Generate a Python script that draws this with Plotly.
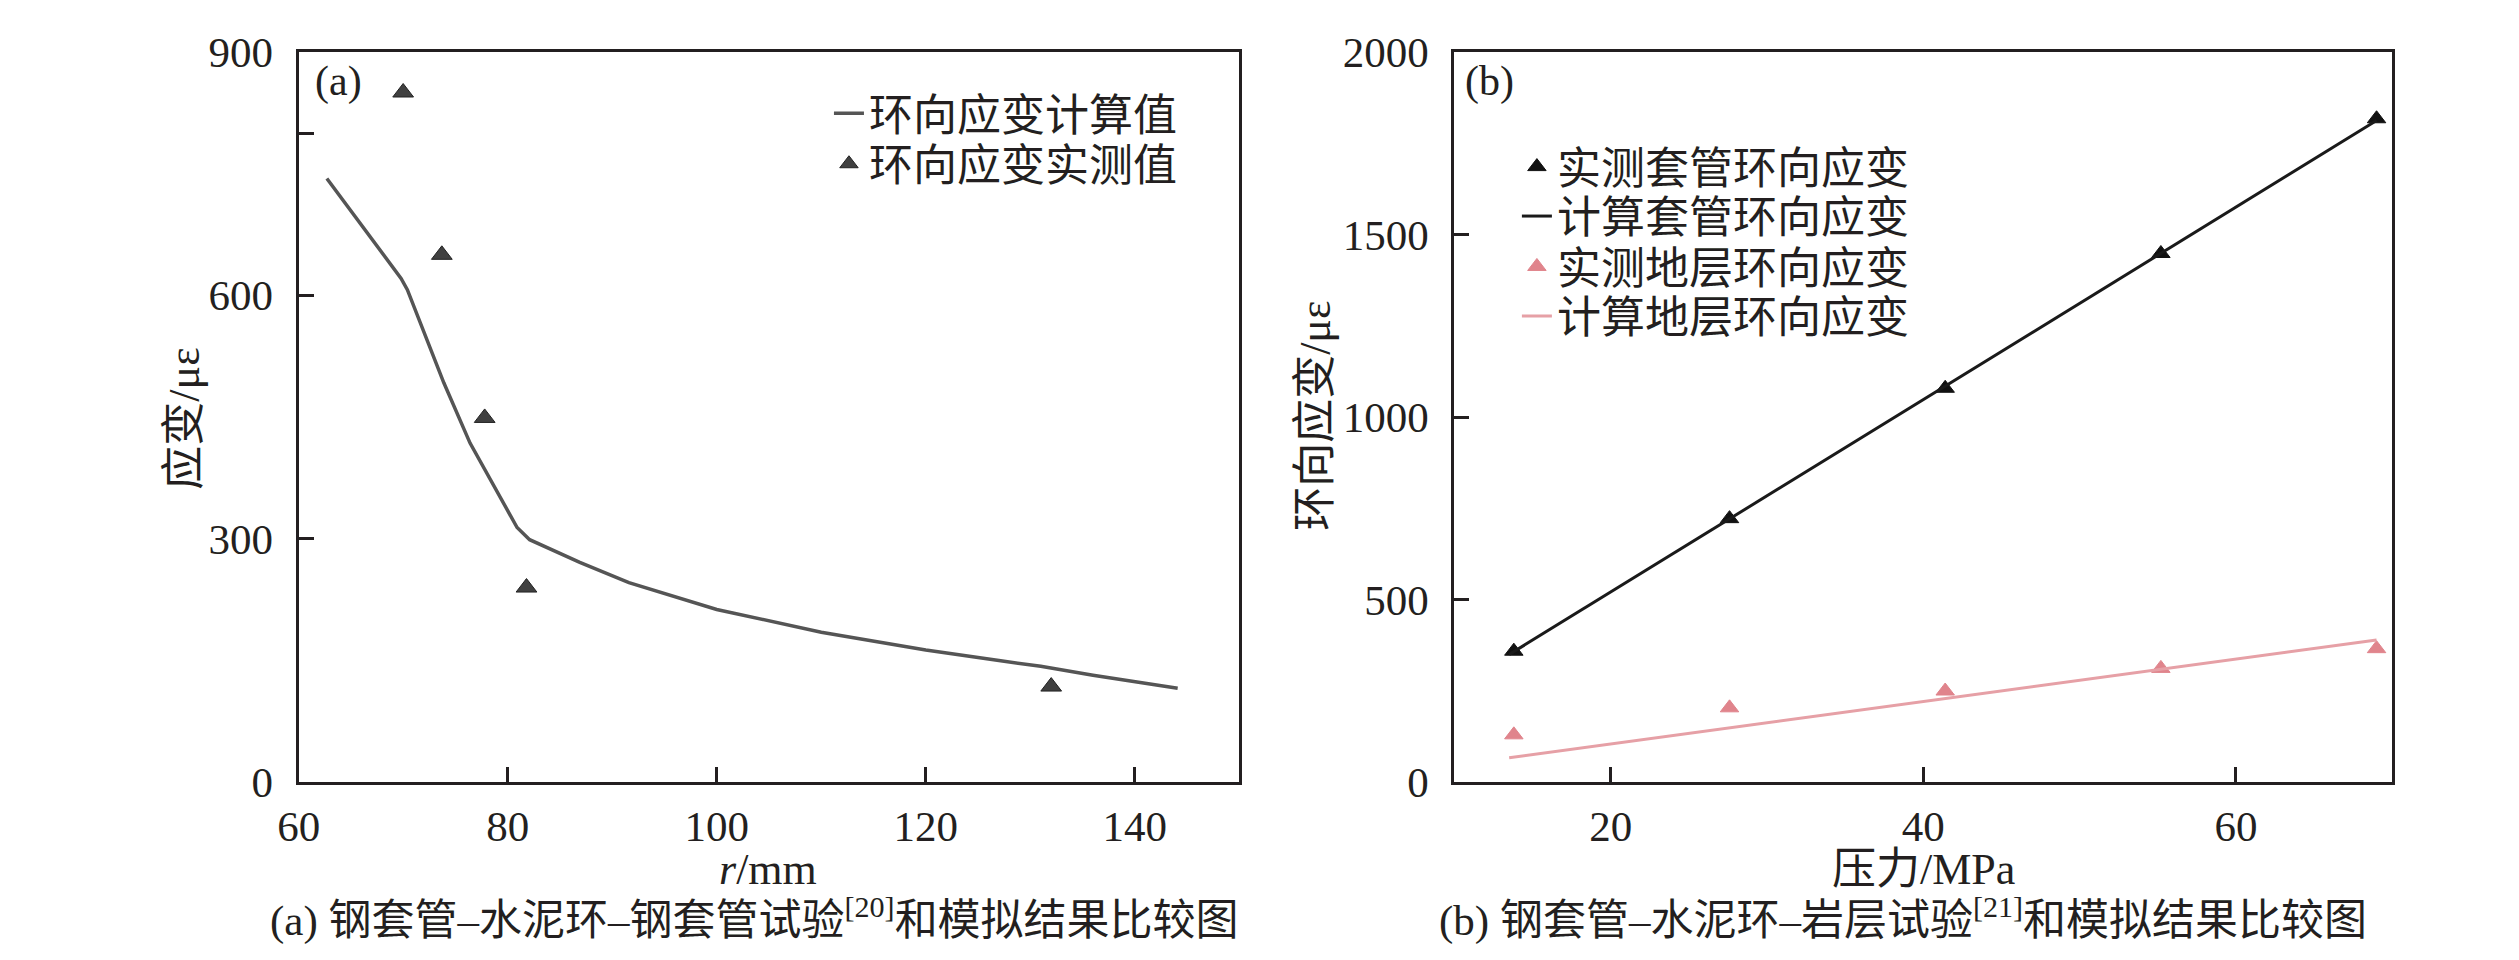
import plotly.graph_objects as go

W, H = 2519, 960
FONT = "Liberation Serif, Noto Sans CJK SC"
INK = "#231f20"

# (a) steel casing - cement - steel casing test
r_calc = [62.7, 69.8, 70.4, 73.9, 76.4, 79.0, 80.9, 82.1, 86.9, 91.6, 100, 110, 120, 127, 131, 136, 144.1]
strain_calc = [744, 621, 607, 492, 418, 359, 314, 299, 271, 246, 213, 185, 163, 150, 143, 132, 116]
r_meas = [70, 73.7, 77.8, 81.8, 132]
strain_meas = [850, 650, 449, 240, 118]

# (b) steel casing - cement - rock test
p_meas = [13.8, 27.6, 41.4, 55.2, 69]
casing_meas = [359, 722, 1079, 1448, 1817]
rock_meas = [130, 204, 250, 312, 366]
p_calc = [13.5, 69]
casing_calc = [350, 1812]
rock_calc = [67, 390]

LEFT_TICKS = [0, 300, 600, 800, 900]
LEFT_TICKTEXT = ["0", "300", "600", " ", "900"]


def px(x):
    return x / W


def py(y):
    return 1 - y / H


fig = go.Figure()

fig.add_trace(go.Scatter(x=r_calc, y=strain_calc, mode="lines", name="环向应变计算值",
                         line=dict(color="#555555", width=3.5),
                         xaxis="x", yaxis="y", legend="legend", showlegend=True))
fig.add_trace(go.Scatter(x=r_meas, y=strain_meas, mode="markers", name="环向应变实测值",
                         marker=dict(symbol="triangle-up", size=18, color="#404040",
                                     line=dict(color="#222222", width=1)),
                         xaxis="x", yaxis="y", legend="legend2", showlegend=True))

fig.add_trace(go.Scatter(x=p_meas, y=casing_meas, mode="markers", name="实测套管环向应变",
                         marker=dict(symbol="triangle-up", size=16, color="#111111",
                                     line=dict(color="#111111", width=1)),
                         xaxis="x2", yaxis="y2", legend="legend3", showlegend=True))
fig.add_trace(go.Scatter(x=p_calc, y=casing_calc, mode="lines", name="计算套管环向应变",
                         line=dict(color="#1a1a1a", width=3),
                         xaxis="x2", yaxis="y2", legend="legend4", showlegend=True))
fig.add_trace(go.Scatter(x=p_meas, y=rock_meas, mode="markers", name="实测地层环向应变",
                         marker=dict(symbol="triangle-up", size=16, color="#e0848c",
                                     line=dict(color="#e0848c", width=1)),
                         xaxis="x2", yaxis="y2", legend="legend5", showlegend=True))
fig.add_trace(go.Scatter(x=p_calc, y=rock_calc, mode="lines", name="计算地层环向应变",
                         line=dict(color="#e6a0a6", width=3),
                         xaxis="x2", yaxis="y2", legend="legend6", showlegend=True))

axis_common = dict(showline=True, mirror=True, linecolor=INK, linewidth=3,
                   ticks="inside", ticklen=15, tickwidth=2.5, tickcolor=INK,
                   showgrid=False, zeroline=False, ticklabeloverflow="allow",
                   tickfont=dict(family=FONT, size=43, color=INK))

y_dom = [py(790), py(22)]


def legend_row(x, y):
    # one legend per row so the row spacing can follow the reference
    return dict(x=px(x), y=py(y), xanchor="left", yanchor="middle", visible=True,
                bgcolor="rgba(0,0,0,0)", font=dict(family=FONT, size=44, color=INK))


fig.update_layout(
    width=W, height=H,
    margin=dict(l=0, r=0, t=0, b=0),
    paper_bgcolor="white", plot_bgcolor="white",
    showlegend=True,
    font=dict(family=FONT, size=43, color=INK),
    xaxis=dict(domain=[px(271), px(1220)], range=[60, 150], tickvals=[60, 80, 100, 120, 140],
               anchor="y", ticklabelstandoff=4, **axis_common),
    yaxis=dict(domain=y_dom, range=[0, 900], tickvals=LEFT_TICKS, ticktext=LEFT_TICKTEXT,
               anchor="x", ticklabelstandoff=14, **axis_common),
    xaxis2=dict(domain=[px(1437), px(2383)], range=[10, 70], tickvals=[20, 40, 60],
                anchor="y2", ticklabelstandoff=4, **axis_common),
    yaxis2=dict(domain=y_dom, range=[0, 2000], tickvals=[0, 500, 1000, 1500, 2000],
                anchor="x2", ticklabelstandoff=14, **axis_common),
    legend=legend_row(806, 87),
    legend2=legend_row(806, 140),
    legend3=legend_row(1500, 143),
    legend4=legend_row(1500, 195),
    legend5=legend_row(1500, 248),
    legend6=legend_row(1500, 300),
)

texts = [
    ("(a)", 311, 53, 42),
    ("(b)", 1472, 53, 42),
    ("<i>r</i>/mm", 744, 882, 44),
    ("压力/MPa", 1910, 882, 44),
    ("(a) 钢套管–水泥环–钢套管试验<sup>[20]</sup>和模拟结果比较图", 731, 932, 43),
    ("(b) 钢套管–水泥环–岩层试验<sup>[21]</sup>和模拟结果比较图", 1889, 932, 43),
]
for t, x, y, s in texts:
    fig.add_annotation(text=t, x=px(x), y=py(y), xref="paper", yref="paper",
                       showarrow=False, xanchor="center", yanchor="middle",
                       font=dict(family=FONT, size=s, color=INK))

for t, x, y in [("应变/με", 155, 408), ("环向应变/με", 1296, 405)]:
    fig.add_annotation(text=t, x=px(x), y=py(y), xref="paper", yref="paper",
                       showarrow=False, textangle=-90, xanchor="center", yanchor="middle",
                       font=dict(family=FONT, size=44, color=INK))

fig.write_html("out.html")
